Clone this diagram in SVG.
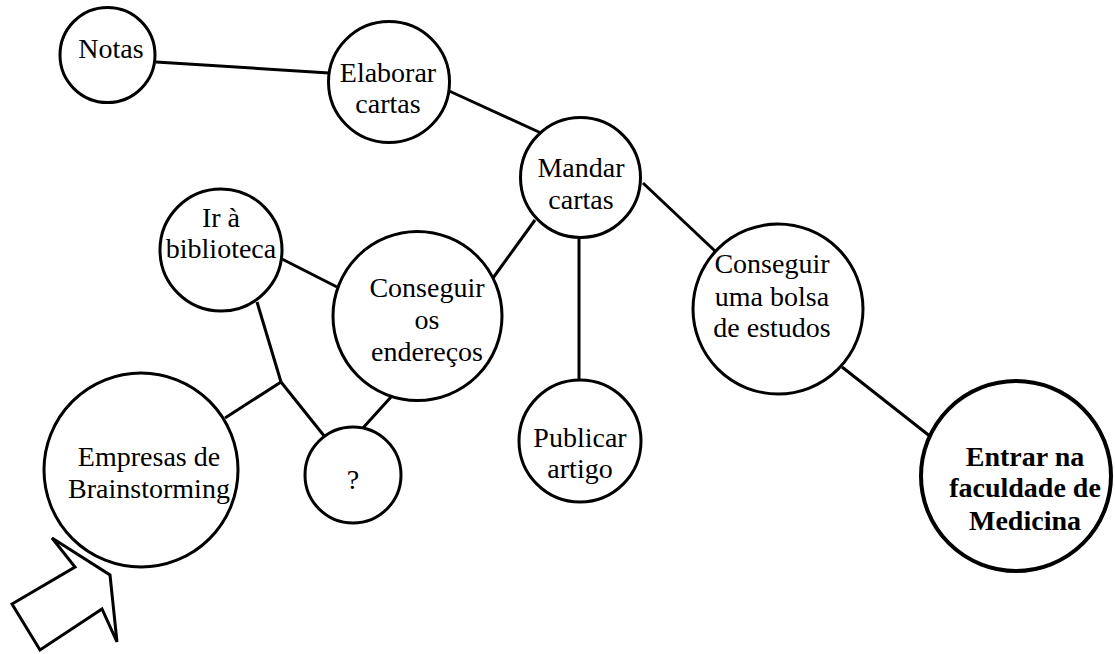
<svg xmlns="http://www.w3.org/2000/svg" width="1115" height="654" viewBox="0 0 1115 654">
  <style>
    .node { fill: #ffffff; stroke: #000000; stroke-width: 3; }
    .goal { fill: #ffffff; stroke: #000000; stroke-width: 4; }
    .link { stroke: #000000; stroke-width: 3; fill: none; }
    .lbl { font-family: 'Times New Roman', 'Liberation Serif', Tinos, serif; font-size: 28px; fill: #000000; text-anchor: middle; }
    .bold { font-weight: bold; }
  </style>

  <!-- connectors -->
  <g id="connectors">
    <line class="link" x1="156" y1="62" x2="329" y2="73"/>
    <line class="link" x1="447" y1="90" x2="541" y2="133"/>
    <line class="link" x1="535" y1="220" x2="493" y2="278"/>
    <line class="link" x1="579" y1="238" x2="579" y2="381"/>
    <line class="link" x1="643" y1="183" x2="715" y2="251"/>
    <line class="link" x1="842" y1="367" x2="931" y2="437"/>
    <line class="link" x1="282" y1="259" x2="337" y2="287"/>
    <line class="link" x1="257" y1="302" x2="281" y2="382"/>
    <line class="link" x1="281" y1="382" x2="225" y2="418"/>
    <line class="link" x1="281" y1="382" x2="325" y2="437"/>
    <line class="link" x1="391" y1="397" x2="362" y2="429"/>
  </g>

  <g id="notas">
    <circle class="node" cx="107.5" cy="55" r="47.5"/>
    <text class="lbl" x="111" y="58">Notas</text>
  </g>

  <g id="elaborar-cartas">
    <circle class="node" cx="389" cy="82" r="60.5"/>
    <text class="lbl" x="388" y="82">Elaborar</text>
    <text class="lbl" x="388" y="113">cartas</text>
  </g>

  <g id="mandar-cartas">
    <circle class="node" cx="580.5" cy="177.5" r="60"/>
    <text class="lbl" x="581" y="177">Mandar</text>
    <text class="lbl" x="581" y="209">cartas</text>
  </g>

  <g id="conseguir-bolsa">
    <circle class="node" cx="778" cy="309" r="85"/>
    <text class="lbl" x="772" y="273">Conseguir</text>
    <text class="lbl" x="772" y="306">uma bolsa</text>
    <text class="lbl" x="772" y="337">de estudos</text>
  </g>

  <g id="conseguir-enderecos">
    <circle class="node" cx="417.5" cy="316" r="84.5"/>
    <text class="lbl" x="427" y="297">Conseguir</text>
    <text class="lbl" x="427" y="329">os</text>
    <text class="lbl" x="427" y="361">endereços</text>
  </g>

  <g id="ir-biblioteca">
    <circle class="node" cx="221" cy="250" r="61"/>
    <text class="lbl" x="221" y="227">Ir à</text>
    <text class="lbl" x="221" y="258">biblioteca</text>
  </g>

  <g id="empresas-brainstorming">
    <circle class="node" cx="141" cy="470" r="97"/>
    <text class="lbl" x="149" y="466">Empresas de</text>
    <text class="lbl" x="149" y="498">Brainstorming</text>
  </g>

  <g id="interrogacao">
    <circle class="node" cx="353" cy="475" r="48"/>
    <text class="lbl" x="353" y="489">?</text>
  </g>

  <g id="publicar-artigo">
    <circle class="node" cx="580" cy="441" r="61"/>
    <text class="lbl" x="580" y="447">Publicar</text>
    <text class="lbl" x="580" y="478">artigo</text>
  </g>

  <g id="entrar-medicina">
    <circle class="goal" cx="1016" cy="476" r="95"/>
    <text class="lbl bold" x="1025" y="466">Entrar na</text>
    <text class="lbl bold" x="1025" y="497">faculdade de</text>
    <text class="lbl bold" x="1025" y="530">Medicina</text>
  </g>

  <!-- block arrow pointing at the starting node -->
  <g id="seta">
    <polygon class="node" points="12,604 75,567 52,538 110,575 117,642 102,609 40,650"/>
  </g>
</svg>
